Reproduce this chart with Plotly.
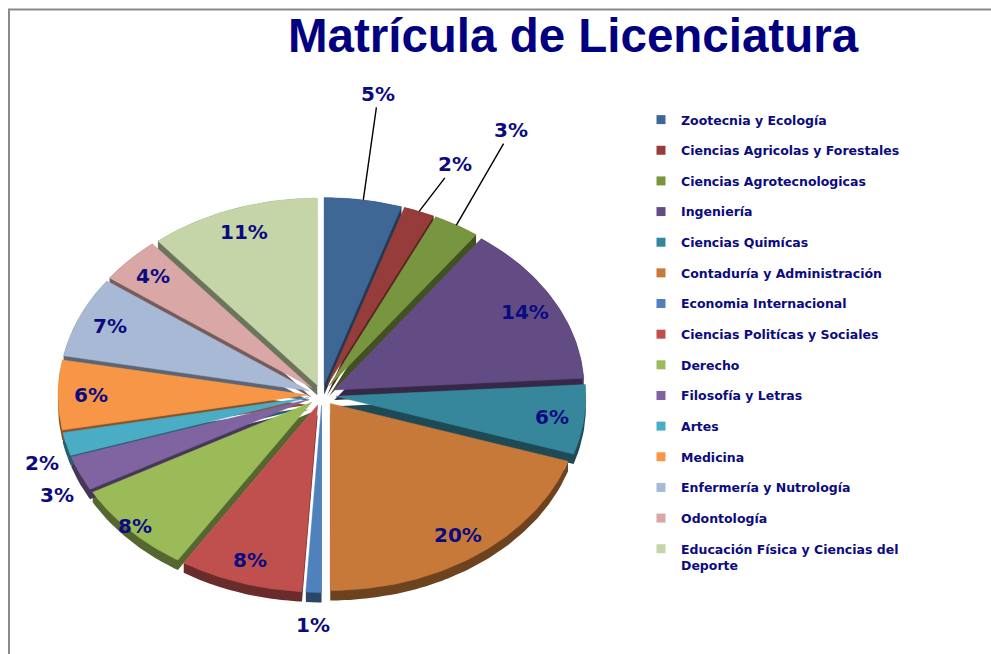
import numpy as np
import plotly.graph_objects as go

# ---------------- data ----------------
categories = [
    "Zootecnia y Ecología",
    "Ciencias Agricolas y Forestales",
    "Ciencias Agrotecnologicas",
    "Ingeniería",
    "Ciencias Quimícas",
    "Contaduría y Administración",
    "Economia Internacional",
    "Ciencias Politícas y Sociales",
    "Derecho",
    "Filosofía y Letras",
    "Artes",
    "Medicina",
    "Enfermería y Nutrología",
    "Odontología",
    "Educación Física y Ciencias del Deporte",
]
percent = [5, 2, 3, 14, 6, 20, 1, 8, 8, 3, 2, 6, 7, 4, 11]

colors = [
    "#3E6796", "#963D3B", "#78953F", "#634C83", "#37879C", "#C7793A",
    "#4F81BD", "#C0504D", "#9BBB59", "#8064A2", "#4BACC6", "#F79646",
    "#A8B9D6", "#D8A7A6", "#C5D5A8",
]

legend_names = {14: "Educación Física y Ciencias del<br>Deporte"}

# ---------------- styling / geometry ----------------
W, H = 991, 654
CX, CY = 322, 395          # pie centre (px)
RX, RY = 250, 187          # ellipse radii (tilted pie)
EXPLODE = 14
DEPTH = 10
NAVY = "#0B0B80"
LABEL_F = 0.87
label_f_override = {8: 0.97}
outside = {6, 9, 10}
leader = {0: (15, -106), 1: (36, -47), 2: (55, -95)}
LABEL_FONT = dict(family="DejaVu Sans", size=20, color=NAVY, weight="bold")


def darker(hexc, f=0.55):
    h = hexc.lstrip("#")
    r, g, b = (int(h[i:i + 2], 16) for i in (0, 2, 4))
    return "rgb(%d,%d,%d)" % (r * f, g * f, b * f)


total = float(sum(percent))
cum = np.concatenate([[0], np.cumsum(percent)]) / total * 2 * np.pi

fig = go.Figure()
side_traces, top_traces, annotations = [], [], []

for i, (cat, val) in enumerate(zip(categories, percent)):
    t0, t1 = cum[i], cum[i + 1]
    mid = (t0 + t1) / 2
    ox = EXPLODE * np.sin(mid)
    oy = -EXPLODE * np.cos(mid) * RY / RX
    n = max(6, int(val * 4))
    arc = np.linspace(t0, t1, n)
    ax_ = CX + ox + RX * np.sin(arc)
    ay_ = CY + oy - RY * np.cos(arc)
    tipx, tipy = CX + ox, CY + oy

    wx = [tipx] + list(ax_) + [tipx]
    wy = [tipy] + list(ay_) + [tipy]

    # extruded side: shifted wedge + arc band
    sx = wx + [None] + list(ax_) + list(ax_[::-1])
    sy = [y + DEPTH for y in wy] + [None] + list(ay_ + DEPTH) + list(ay_[::-1])
    side_traces.append(go.Scatter(
        x=sx, y=sy, mode="lines", fill="toself",
        fillcolor=darker(colors[i]), line=dict(width=0),
        hoverinfo="skip", showlegend=False))
    top_traces.append(go.Scatter(
        x=wx, y=wy, mode="lines", fill="toself",
        fillcolor=colors[i], line=dict(width=0.5, color=colors[i]),
        name=cat, text="%d%%" % val, hoverinfo="name+text",
        showlegend=False))

    label = "%d%%" % val
    if i in leader:
        px = CX + ox + RX * np.sin(mid)
        py = CY + oy - RY * np.cos(mid)
        dx, dy = leader[i]
        annotations.append(dict(
            x=px, y=py, xref="x", yref="y", text=label, showarrow=True,
            arrowhead=0, arrowwidth=1.4, arrowcolor="black", ax=dx, ay=dy,
            font=LABEL_FONT))
    else:
        if i in outside:
            f, extra = 1.1, 14
        else:
            f, extra = label_f_override.get(i, LABEL_F), 0
        lx = CX + ox + f * RX * np.sin(mid)
        ly = CY + oy - f * RY * np.cos(mid) + extra
        annotations.append(dict(
            x=lx, y=ly, xref="x", yref="y", text=label, showarrow=False,
            font=LABEL_FONT))

for t in side_traces:
    fig.add_trace(t)
for t in top_traces:
    fig.add_trace(t)

# legend entries
for i, cat in enumerate(categories):
    fig.add_trace(go.Scatter(
        x=[None], y=[None], mode="markers",
        marker=dict(symbol="square", size=9, color=colors[i]),
        name=legend_names.get(i, cat), legendgroup=str(i), showlegend=True,
        hoverinfo="skip"))

fig.update_layout(
    width=W, height=H,
    margin=dict(l=0, r=0, t=0, b=0),
    paper_bgcolor="white", plot_bgcolor="white",
    xaxis=dict(range=[0, W], visible=False, fixedrange=True),
    yaxis=dict(range=[H, 0], visible=False, fixedrange=True),
    title=dict(text="Matrícula de Licenciatura", x=573 / W, y=1 - 35 / H,
               xanchor="center", yanchor="middle",
               font=dict(family="Liberation Sans", size=47.5, color="#000080",
                         weight="bold")),
    legend=dict(x=641 / W, y=1 - 105 / H, xanchor="left", yanchor="top",
                font=dict(family="DejaVu Sans", size=12.5, color=NAVY,
                          weight="bold"),
                tracegroupgap=11.4, valign="top", bgcolor="rgba(0,0,0,0)"),
    annotations=annotations,
    shapes=[dict(type="rect", xref="x", yref="y", x0=9, y0=9.5, x1=W + 20,
                 y1=H + 20, line=dict(color="#8a8a8a", width=2))],
    showlegend=True,
)

fig.write_html("out.html",
               config={"displayModeBar": False},
               post_script="document.body.style.margin='0';"
                           "document.body.style.overflow='hidden';")
